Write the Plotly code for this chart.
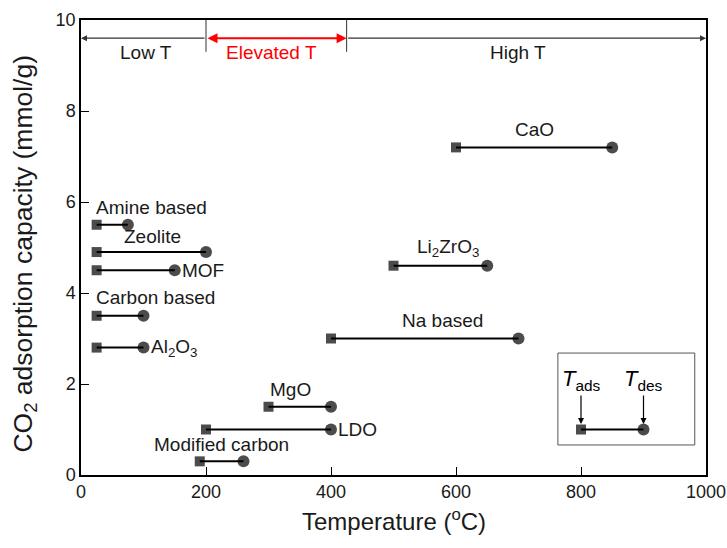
import plotly.graph_objects as go

materials = ["Amine based", "Zeolite", "MOF", "Carbon based", "Al<sub>2</sub>O<sub>3</sub>",
             "CaO", "Li<sub>2</sub>ZrO<sub>3</sub>", "Na based", "MgO", "LDO", "Modified carbon"]
t_ads = [25, 25, 25, 25, 25, 600, 500, 400, 300, 200, 190]
t_des = [75, 200, 150, 100, 100, 850, 650, 700, 400, 400, 260]
capacity = [5.5, 4.9, 4.5, 3.5, 2.8, 7.2, 4.6, 3.0, 1.5, 1.0, 0.3]
label_x = [20, 115, 158, 20, 108, 725, 587, 578, 335, 408, 225]
label_y = [5.88, 5.25, 4.5, 3.9, 2.8, 7.6, 5.0, 3.4, 1.88, 1.0, 0.68]
label_anchor = ["left", "center", "left", "left", "left", "center", "center", "center", "center", "left", "center"]

regions = ["Low T", "Elevated T", "High T"]
region_x = [104, 304, 699]
region_colors = ["black", "red", "black"]
region_bounds = [0, 200, 425, 1000]

x_ticks = [0, 200, 400, 600, 800, 1000]
y_ticks = [0, 2, 4, 6, 8, 10]

font_main = "Liberation Sans, Arial, sans-serif"
text_col = "#1a1a1a"

fig = go.Figure()
for name, a, d, c in zip(materials, t_ads, t_des, capacity):
    fig.add_trace(go.Scatter(x=[a, d], y=[c, c], mode="lines+markers",
                             line=dict(color="black", width=2),
                             marker=dict(symbol=["square", "circle"], size=[10, 12], color="black",
                                         line=dict(width=0)),
                             showlegend=False, hoverinfo="skip"))

annotations = []
for name, lx, ly, an in zip(materials, label_x, label_y, label_anchor):
    annotations.append(dict(x=lx, y=ly, text=name, showarrow=False, xanchor=an, yanchor="middle",
                            font=dict(size=19, color=text_col, family=font_main)))

# region arrows
arrow_y = 9.6
annotations.append(dict(x=region_bounds[0], y=arrow_y, ax=region_bounds[1], ay=arrow_y, axref="x", ayref="y",
                        xref="x", yref="y", text="", showarrow=True, arrowhead=2, arrowsize=1,
                        arrowwidth=1.2, arrowcolor="#333"))
annotations.append(dict(x=region_bounds[2], y=arrow_y, ax=region_bounds[1], ay=arrow_y, axref="x", ayref="y",
                        xref="x", yref="y", text="", showarrow=True, arrowhead=2, startarrowhead=2,
                        arrowside="end+start", arrowsize=1, arrowwidth=2, arrowcolor="red"))
annotations.append(dict(x=region_bounds[3], y=arrow_y, ax=region_bounds[2], ay=arrow_y, axref="x", ayref="y",
                        xref="x", yref="y", text="", showarrow=True, arrowhead=2, arrowsize=1,
                        arrowwidth=1.2, arrowcolor="#333"))
for r, rx, rc in zip(regions, region_x, region_colors):
    annotations.append(dict(x=rx, y=9.28, text=r, showarrow=False, xanchor="center", yanchor="middle",
                            font=dict(size=19, color=rc if rc == "red" else text_col, family=font_main)))

# inset legend
key_ads, key_des, key_y = 800, 900, 1.0
annotations.append(dict(x=key_ads, y=1.12, ax=key_ads, ay=1.78, axref="x", ayref="y", xref="x", yref="y",
                        text="", showarrow=True, arrowhead=2, arrowwidth=1.2, arrowcolor="black"))
annotations.append(dict(x=key_des, y=1.12, ax=key_des, ay=1.78, axref="x", ayref="y", xref="x", yref="y",
                        text="", showarrow=True, arrowhead=2, arrowwidth=1.2, arrowcolor="black"))
annotations.append(dict(x=key_ads, y=2.08, text="<i>T</i><sub>ads</sub>", showarrow=False,
                        font=dict(size=22, color="black", family=font_main)))
annotations.append(dict(x=key_des, y=2.08, text="<i>T</i><sub>des</sub>", showarrow=False,
                        font=dict(size=22, color="black", family=font_main)))
fig.add_trace(go.Scatter(x=[key_ads, key_des], y=[key_y, key_y], mode="lines+markers",
                         line=dict(color="black", width=2),
                         marker=dict(symbol=["square", "circle"], size=[10, 12], color="black",
                                     line=dict(width=0)),
                         showlegend=False, hoverinfo="skip"))

# axis titles
annotations.append(dict(xref="paper", yref="paper", x=0.5, y=-0.099, yanchor="middle", xanchor="center",
                        text="Temperature (<sup>o</sup>C)", showarrow=False,
                        font=dict(size=24, color=text_col, family=font_main)))
annotations.append(dict(xref="paper", yref="paper", x=-0.09, y=0.486, yanchor="middle", xanchor="center",
                        text="CO<sub>2</sub> adsorption capacity (mmol/g)", showarrow=False, textangle=-90,
                        font=dict(size=26.5, color=text_col, family=font_main)))

shapes = [
    dict(type="rect", xref="x", yref="y", x0=763, x1=982, y0=0.66, y1=2.68,
         line=dict(color="#555", width=1)),
    dict(type="line", xref="x", yref="y", x0=200, x1=200, y0=9.3, y1=10, line=dict(color="#333", width=1)),
    dict(type="line", xref="x", yref="y", x0=425, x1=425, y0=9.3, y1=10, line=dict(color="#333", width=1)),
]

fig.update_layout(
    width=727, height=548, margin=dict(l=81, r=21, t=20, b=73),
    plot_bgcolor="white", paper_bgcolor="white",
    font=dict(family=font_main, size=18, color=text_col),
    annotations=annotations, shapes=shapes,
    xaxis=dict(range=[0, 1000], tickvals=x_ticks, ticks="inside", ticklen=8, automargin=False,
               tickcolor="black", showline=True, linecolor="black", linewidth=1.5, mirror=True,
               showgrid=False, zeroline=False, tickfont=dict(size=18)),
    yaxis=dict(range=[0, 10], tickvals=y_ticks, ticks="inside", ticklen=8, automargin=False,
               tickcolor="black", showline=True, linecolor="black", linewidth=1.5, mirror=True,
               showgrid=False, zeroline=False, tickfont=dict(size=18)),
)

fig.write_html("out.html")
